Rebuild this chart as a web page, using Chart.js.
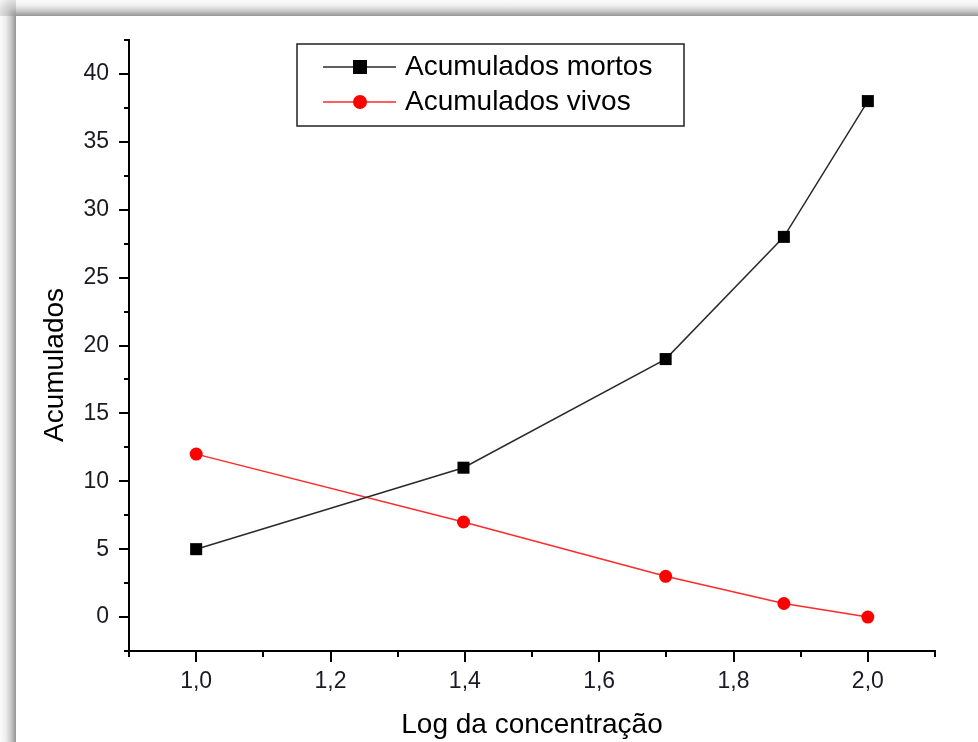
<!DOCTYPE html>
<html>
<head>
<meta charset="utf-8">
<script src="https://cdn.jsdelivr.net/npm/chart.js@4/dist/chart.umd.min.js"></script>
<style>
  html, body { margin: 0; padding: 0; background: #fff; width: 978px; height: 742px; overflow: hidden; }
  #leftStrip { position: absolute; left: 0; top: 0; width: 16px; height: 742px;
    background: linear-gradient(to right, #fbfbfb 0%, #eeeeee 35%, #c8c8c8 70%, #959595 100%); }
  #topStrip { position: absolute; left: 0; top: 0; width: 978px; height: 16px;
    background: linear-gradient(to bottom, #fbfbfb 0%, #eeeeee 35%, #c8c8c8 70%, #959595 100%); }
  #corner { position: absolute; left: 0; top: 0; width: 16px; height: 16px;
    background: radial-gradient(circle at 100% 100%, #959595 0%, #c8c8c8 40%, #f6f6f6 100%); }
  canvas { position: absolute; left: 0; top: 0; }
</style>
</head>
<body>
<div id="leftStrip"></div>
<div id="topStrip"></div>
<div id="corner"></div>
<canvas id="c" width="978" height="742"></canvas>
<script>
// ---- data ----
const logConc = [1.0, 1.398, 1.699, 1.875, 2.0];
const mortos = [5, 11, 19, 28, 38];
const vivos = [12, 7, 3, 1, 0];
const seriesNames = ['Acumulados mortos', 'Acumulados vivos'];
const xTitle = 'Log da concentração';
const yTitle = 'Acumulados';

const FONT = "'Liberation Sans', Arial, sans-serif";

function isMult(v, step) {
  const q = v / step;
  return Math.abs(q - Math.round(q)) < 1e-6;
}

const tickMarks = {
  id: 'tickMarks',
  afterDraw(chart) {
    const ctx = chart.ctx;
    ctx.save();
    ctx.strokeStyle = '#000';
    ctx.lineWidth = 2;
    const xs = chart.scales.x, ys = chart.scales.y;
    const ca = chart.chartArea;
    xs.ticks.forEach(t => {
      const major = isMult(t.value, 0.2);
      const px = Math.round(xs.getPixelForValue(t.value));
      const len = major ? 11 : 6;
      ctx.beginPath();
      ctx.moveTo(px, ca.bottom);
      ctx.lineTo(px, ca.bottom + len);
      ctx.stroke();
    });
    ys.ticks.forEach(t => {
      const major = isMult(t.value, 5);
      const py = Math.round(ys.getPixelForValue(t.value));
      const len = major ? 10 : 5;
      ctx.beginPath();
      ctx.moveTo(ca.left, py);
      ctx.lineTo(ca.left - len, py);
      ctx.stroke();
    });
    ctx.restore();
  }
};

const yTitlePlugin = {
  id: 'yTitlePlugin',
  afterDraw(chart) {
    const ctx = chart.ctx;
    ctx.save();
    ctx.translate(63, 365);
    ctx.rotate(-Math.PI / 2);
    ctx.font = '28px ' + FONT;
    ctx.fillStyle = '#000';
    ctx.textAlign = 'center';
    ctx.textBaseline = 'alphabetic';
    ctx.fillText(yTitle, 0, 0);
    ctx.restore();
  }
};

const boxLegend = {
  id: 'boxLegend',
  afterDraw(chart) {
    const ctx = chart.ctx;
    ctx.save();
    ctx.strokeStyle = '#222';
    ctx.lineWidth = 1.5;
    ctx.strokeRect(297, 44, 387, 82);
    const rows = [67, 102];
    const bases = [75, 110];
    chart.data.datasets.forEach((ds, i) => {
      const y = rows[i];
      ctx.strokeStyle = ds.borderColor;
      ctx.lineWidth = 1.5;
      ctx.beginPath();
      ctx.moveTo(323, y);
      ctx.lineTo(396, y);
      ctx.stroke();
      ctx.fillStyle = ds.pointBackgroundColor;
      if (ds.pointStyle === 'rect') {
        ctx.fillRect(353, y - 7, 14, 14);
      } else {
        ctx.beginPath();
        ctx.arc(360, y, 7, 0, Math.PI * 2);
        ctx.fill();
      }
      ctx.fillStyle = '#000';
      ctx.font = '28px ' + FONT;
      ctx.textAlign = 'left';
      ctx.textBaseline = 'alphabetic';
      ctx.fillText(ds.label, 405, bases[i]);
    });
    ctx.restore();
  }
};

const toPts = arr => arr.map((v, i) => ({ x: logConc[i], y: v }));

new Chart(document.getElementById('c'), {
  type: 'line',
  data: {
    datasets: [
      {
        label: seriesNames[0],
        data: toPts(mortos),
        borderColor: '#2a2a2a',
        borderWidth: 1.5,
        pointStyle: 'rect',
        pointRadius: 8.5,
        pointHoverRadius: 8.5,
        pointBackgroundColor: '#000',
        pointBorderColor: '#000',
        pointBorderWidth: 0,
        tension: 0
      },
      {
        label: seriesNames[1],
        data: toPts(vivos),
        borderColor: '#ff2a2a',
        borderWidth: 1.5,
        pointStyle: 'circle',
        pointRadius: 6.5,
        pointHoverRadius: 6.5,
        pointBackgroundColor: '#ff0000',
        pointBorderColor: '#ff0000',
        pointBorderWidth: 0,
        tension: 0
      }
    ]
  },
  options: {
    responsive: false,
    devicePixelRatio: 1,
    animation: false,
    events: [],
    layout: { padding: { top: 40, right: 43, left: 0, bottom: 0 } },
    plugins: { legend: { display: false }, tooltip: { enabled: false }, title: { display: false } },
    scales: {
      x: {
        type: 'linear',
        min: 0.9,
        max: 2.1,
        afterFit(s) { s.height = 91; },
        grid: { color: 'rgba(0,0,0,0)', drawOnChartArea: false, drawTicks: true, tickLength: 10 },
        border: { display: true, color: '#000', width: 2 },
        ticks: {
          stepSize: 0.1,
          autoSkip: false,
          maxRotation: 0,
          padding: 7,
          color: '#1a1a22',
          font: { family: FONT, size: 23 },
          callback: v => isMult(v, 0.2) ? v.toFixed(1).replace('.', ',') : ''
        },
        title: {
          display: true,
          text: xTitle,
          color: '#000',
          font: { family: FONT, size: 28 },
          padding: { top: 0, bottom: 0 }
        }
      },
      y: {
        type: 'linear',
        min: -2.5,
        max: 42.5,
        afterFit(s) { s.width = 129; },
        grid: { color: 'rgba(0,0,0,0)', drawOnChartArea: false, drawTicks: true, tickLength: 10 },
        border: { display: true, color: '#000', width: 2 },
        ticks: {
          stepSize: 2.5,
          autoSkip: false,
          padding: 10,
          color: '#1a1a22',
          font: { family: FONT, size: 23 },
          callback: v => isMult(v, 5) ? String(Math.round(v)) : ''
        },
        title: { display: false, text: yTitle }
      }
    }
  },
  plugins: [tickMarks, yTitlePlugin, boxLegend]
});
</script>
</body>
</html>
